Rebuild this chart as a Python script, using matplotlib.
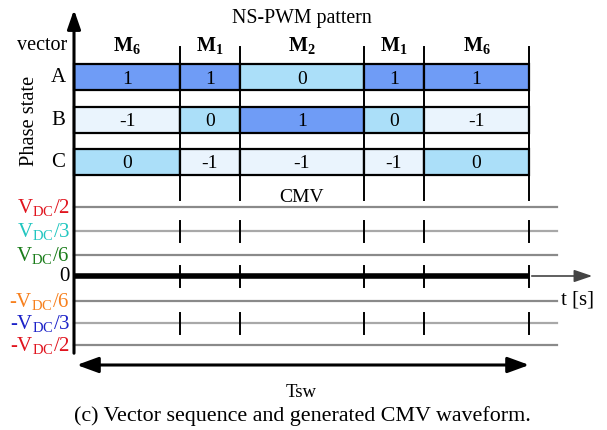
"""
NS-PWM vector sequence over one switching period and the resulting CMV.
"""

import matplotlib
matplotlib.use("Agg")
import matplotlib.pyplot as plt
from matplotlib.patches import Rectangle, FancyArrowPatch

plt.rcParams["font.family"] = ["Liberation Serif", "DejaVu Serif"]
plt.rcParams["mathtext.fontset"] = "custom"
plt.rcParams["mathtext.rm"] = "Liberation Serif"
plt.rcParams["mathtext.it"] = "Liberation Serif:italic"
plt.rcParams["mathtext.bf"] = "Liberation Serif:bold"

# vector sequence in one switching period (durations in px-equivalent time units)
vectors = ["6", "1", "2", "1", "6"]
durations = [106, 60, 124, 60, 105]
phase_names = ["A", "B", "C"]
state_a = [1, 1, 0, 1, 1]
state_b = [-1, 0, 1, 0, -1]
state_c = [0, -1, -1, -1, 0]
cmv = [0, 0, 0, 0, 0]

# CMV levels (fraction of VDC) and their labels
levels = [1 / 2, 1 / 3, 1 / 6, 0, -1 / 6, -1 / 3, -1 / 2]
level_labels = [r"V$_{\rm DC}$/2", r"V$_{\rm DC}$/3", r"V$_{\rm DC}$/6", "0",
                r"-V$_{\rm DC}$/6", r"-V$_{\rm DC}$/3", r"-V$_{\rm DC}$/2"]
level_colors = ["#e0141e", "#22c6c0", "#1b7d1b", "black",
                "#f7801e", "#1c22c8", "#e0141e"]
level_y = [208, 232, 256, 277, 302, 324, 346]

state_fill = {1: "#6f9cf6", 0: "#abdff9", -1: "#eaf4fd"}
row_top = [65, 108, 150]
row_h = 26

fig = plt.figure(figsize=(6.07, 4.31), dpi=100)
ax = fig.add_axes([0, 0, 1, 1])
ax.set_xlim(-74, 607 - 74)
ax.set_ylim(431, 0)
ax.axis("off")

edges = [0]
for d in durations:
    edges.append(edges[-1] + d)
tsw = edges[-1]

# phase-state cells
for r, states in enumerate([state_a, state_b, state_c]):
    y0 = row_top[r]
    for k, s in enumerate(states):
        ax.add_patch(Rectangle((edges[k], y0), durations[k], row_h,
                               facecolor=state_fill[s], edgecolor="black",
                               lw=1.6, zorder=3))
        ax.text(edges[k] + durations[k] / 2, y0 + row_h / 2 + 1, str(s),
                ha="center", va="center", fontsize=14, zorder=4)
    ax.text(-16, y0 + row_h / 2, phase_names[r], ha="center", va="center",
            fontsize=15)

# vector names
for k, v in enumerate(vectors):
    ax.text(edges[k] + durations[k] / 2, 45, r"$\mathbf{M}_{\mathbf{%s}}$" % v,
            ha="center", va="center", fontsize=14.5)
ax.text(-7, 45, "vector", ha="right", va="center", fontsize=14.5)
ax.text(-44, 121, "Phase state", ha="center", va="center", rotation=90,
        fontsize=14.7)
ax.text(tsw / 2, 18, "NS-PWM pattern", ha="center", va="center", fontsize=14.3)
ax.text(tsw / 2, 198, "CMV", ha="center", va="center", fontsize=14)

# segment boundaries through the table
for x in edges[1:]:
    ax.plot([x, x], [48, 201], color="black", lw=1.4, zorder=5)

# CMV level lines
for y, lv in zip(level_y, levels):
    if lv == 0:
        continue
    gray = "#a8a8a8" if abs(lv) == 1 / 3 else "#8a8a8a"
    ax.plot([0, 557 - 74], [y, y], color=gray, lw=1.6, zorder=1)
for y, lab, c in zip(level_y, level_labels, level_colors):
    ax.text(-4, y, lab, ha="right", va="center", fontsize=15, color=c)

# time axis through zero with arrow
zero_y = level_y[levels.index(0)]
ax.add_patch(FancyArrowPatch((tsw, zero_y), (595 - 74, zero_y),
                             arrowstyle="-|>,head_length=4.4,head_width=1.5",
                             mutation_scale=2.5, color="#444444", lw=1.2,
                             zorder=2))
ax.text(561 - 74, 300, "t [s]", ha="left", va="center", fontsize=15)

# CMV waveform
cx, cy = [], []
for k, v in enumerate(cmv):
    cx += [edges[k], edges[k + 1]]
    cy += [zero_y - v, zero_y - v]
ax.plot(cx, cy, color="black", lw=4, solid_capstyle="butt", zorder=4)

# switching instants on the CMV levels
for yl in [level_y[1], zero_y, level_y[5]]:
    for x in edges[1:]:
        ax.plot([x, x], [yl - 10, yl + 11], color="black", lw=1.4, zorder=5)

# vertical axis
ax.add_patch(FancyArrowPatch((0, 357), (0, 8),
                             arrowstyle="-|>,head_length=4.6,head_width=1.6",
                             mutation_scale=2.5, color="black", lw=2.2,
                             zorder=5))

# Tsw span
ax.add_patch(FancyArrowPatch((0, 366), (tsw + 3, 366),
                             arrowstyle="<|-|>,head_length=5.2,head_width=1.9",
                             mutation_scale=2.5, color="black", lw=2.2,
                             zorder=5))
ax.text(tsw / 2, 393, "Tsw", ha="center", va="center", fontsize=13.5)
ax.text(tsw / 2 + 1, 416, "(c) Vector sequence and generated CMV waveform.",
        ha="center", va="center", fontsize=15.8)

fig.savefig("out.png", dpi=100)
